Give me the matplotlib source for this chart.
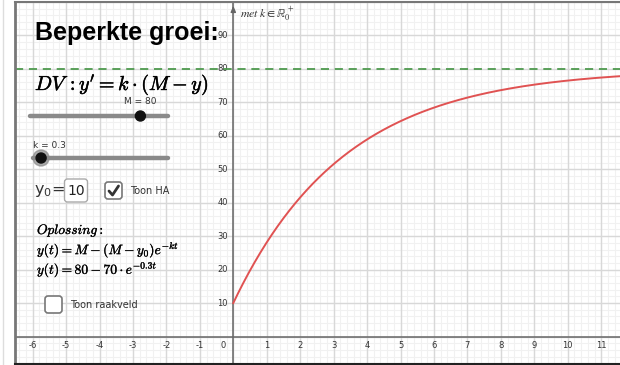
import numpy as np
import matplotlib
matplotlib.use("Agg")
import matplotlib.pyplot as plt
import matplotlib.patheffects as pe
from matplotlib.patches import FancyBboxPatch, Circle
from matplotlib.lines import Line2D

# model parameters
M = 80
k = 0.3
y0 = 10
M_range = (0, 100)
k_range = (0, 5)

x_major = list(range(-6, 12))
y_major = list(range(10, 100, 10))

W, H = 620, 365
fig = plt.figure(figsize=(W / 100, H / 100), dpi=100)
fig.patch.set_facecolor("white")

# graphics view
x0px, x1px, ytop, ybot = 15, 620, 2, 363
ax = fig.add_axes([x0px / W, (H - ybot) / H, (x1px - x0px) / W, (ybot - ytop) / H])
ox, oy, sx, sy = 233.3, 336.5, 33.45, 3.345
ax.set_xlim((x0px - ox) / sx, (x1px - ox) / sx)
ax.set_ylim((oy - ybot) / sy, (oy - ytop) / sy)
ax.set_xticks([])
ax.set_yticks([])
for s in ax.spines.values():
    s.set_visible(False)

xl, xr = ax.get_xlim()
yl, yr = ax.get_ylim()
# minor grid
for gx in np.arange(np.ceil(xl * 5) / 5, xr, 0.2):
    ax.axvline(gx, color="#f1f1f1", lw=0.8, zorder=0)
for gy in np.arange(np.ceil(yl / 2) * 2, yr, 2):
    ax.axhline(gy, color="#f1f1f1", lw=0.8, zorder=0)
# major grid
for gx in range(int(np.ceil(xl)), int(xr) + 1):
    ax.axvline(gx, color="#d8d8d8", lw=1.0, zorder=1)
for gy in range(int(np.ceil(yl / 10)) * 10, int(yr) + 1, 10):
    ax.axhline(gy, color="#d8d8d8", lw=1.0, zorder=1)

# axes lines
ax.axhline(0, color="#666666", lw=1.1, zorder=2)
ax.axvline(0, color="#666666", lw=1.1, zorder=2)
ax.annotate("", xy=(0, yr - 0.3), xytext=(0, yr - 4),
            arrowprops=dict(arrowstyle="-|>,head_width=0.15,head_length=0.35",
                            color="#666666", lw=1.0), zorder=3)

tick_kw = dict(fontsize=6, color="#333333", family="DejaVu Sans")
for v in x_major:
    if v == 0:
        continue
    ax.text(v, -2.8, str(v), ha="center", va="center", **tick_kw)
ax.text(-0.22, -2.8, "0", ha="right", va="center", **tick_kw)
for v in y_major:
    ax.text(-0.16, v, str(v), ha="right", va="center", **tick_kw)

# horizontal asymptote and solution curve
ax.axhline(M, color="#4e9a4e", lw=1.3, ls=(0, (4.5, 3.2)), zorder=4)
t = np.linspace(0, xr, 400)
ax.plot(t, M - (M - y0) * np.exp(-k * t), color="#e05252", lw=1.4, zorder=5)

# frame borders
fig.add_artist(Line2D([x0px / W, x0px / W], [(H - ybot) / H, (H - ytop) / H],
                      color="#777777", lw=2.0))
fig.add_artist(Line2D([x0px / W, 1], [(H - 1.5) / H, (H - 1.5) / H], color="#777777", lw=1.5))
fig.add_artist(Line2D([x0px / W, 1], [(H - 364) / H, (H - 364) / H], color="#222222", lw=1.5))
fig.add_artist(Line2D([3 / W, 3 / W], [0.0, 1.0], color="#dddddd", lw=1.0))

# overlay for the controls, in pixel units
ov = fig.add_axes([0, 0, 1, 1], zorder=10)
ov.set_xlim(0, W)
ov.set_ylim(H, 0)
ov.axis("off")
ov.patch.set_alpha(0)

heavy = [pe.withStroke(linewidth=0.35, foreground="black")]
light = [pe.withStroke(linewidth=0.2, foreground="black")]

ov.text(35, 33, "Beperkte groei:", fontsize=18, fontweight="bold",
        family="Liberation Sans", va="center", ha="left", color="black")
ov.text(35, 85, r"$DV\,:y^{\prime}=k\cdot(M-y)$", fontsize=14.5,
        va="center", ha="left", math_fontfamily="cm", path_effects=heavy)
ov.text(240, 14, r"$met\ k\in\mathbb{R}_0^+$", fontsize=8.5, va="center", ha="left",
        color="#333333", math_fontfamily="stix")

# sliders
def slider(xa, xb, y, val, rng, label, lx, ly, lha, halo):
    ov.plot([xa, xb], [y, y], color="#8a8a8a", lw=3.2, solid_capstyle="round", zorder=1)
    px = xa + (val - rng[0]) / (rng[1] - rng[0]) * (xb - xa)
    if halo:
        ov.add_patch(Circle((px, y), 8, color="#8a8a8a", alpha=0.7, zorder=2))
    ov.add_patch(Circle((px, y), 5, color="#111111", zorder=3))
    ov.text(lx, ly, label, fontsize=6.5, family="DejaVu Sans", ha=lha, va="center", color="#333333")

slider(30, 168, 116, M, M_range, f"M = {M}", 140, 101, "center", False)
slider(33, 168, 158, k, k_range, f"k = {k}", 33, 146, "left", True)

# y0 input
ov.text(34, 191, r"$\mathregular{y_0}$=", fontsize=11.5, family="DejaVu Sans",
        math_fontfamily="dejavusans", va="center", ha="left", color="#333333")
ov.add_patch(FancyBboxPatch((64.5, 179), 23, 23, boxstyle="round,pad=0,rounding_size=3",
                            fc="white", ec="#aaaaaa", lw=1.0))
ov.text(76, 191, str(y0), fontsize=10, family="DejaVu Sans", ha="center", va="center", color="#222222")

# checkboxes
def checkbox(x, y, checked, label):
    ov.add_patch(FancyBboxPatch((x, y), 17, 17, boxstyle="round,pad=0,rounding_size=3",
                                fc="white", ec="#777777", lw=1.2))
    if checked:
        ov.plot([x + 4, x + 7.5, x + 13.5], [y + 9, y + 13, y + 4], color="#333333", lw=2.0,
                solid_capstyle="round", solid_joinstyle="round")
    ov.text(x + 25, y + 9, label, fontsize=7, family="DejaVu Sans", ha="left", va="center",
            color="#333333")

checkbox(105, 182, True, "Toon HA")
checkbox(45, 296, False, "Toon raakveld")

ov.text(37, 231, r"$Oplossing:$", fontsize=9.8, va="center", ha="left",
        math_fontfamily="cm", path_effects=light)
ov.text(37, 250, r"$y(t)=M-(M-y_0)e^{-kt}$", fontsize=9.8, va="center", ha="left",
        math_fontfamily="cm", path_effects=light)
ov.text(37, 270, r"$y(t)=%d-%d\cdot e^{-%gt}$" % (M, M - y0, k), fontsize=9.8,
        va="center", ha="left", math_fontfamily="cm", path_effects=light)

fig.savefig("out.png", dpi=100)
